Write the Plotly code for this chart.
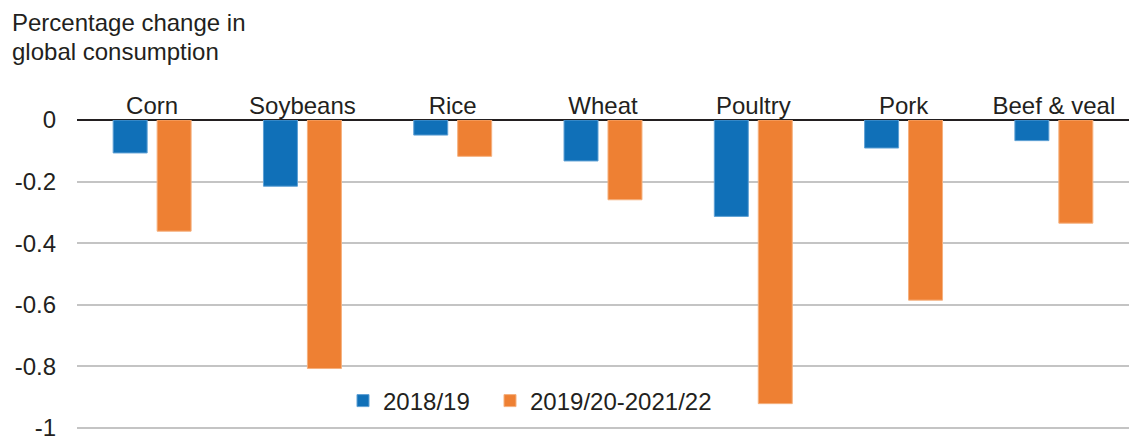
import plotly.graph_objects as go

categories = ["Corn", "Soybeans", "Rice", "Wheat", "Poultry", "Pork", "Beef & veal"]
series_2018 = [-0.107, -0.215, -0.049, -0.133, -0.313, -0.091, -0.067]
series_2019_22 = [-0.361, -0.807, -0.118, -0.259, -0.921, -0.585, -0.335]
tick_vals = [0, -0.2, -0.4, -0.6, -0.8, -1]
tick_text = ["0", "-0.2", "-0.4", "-0.6", "-0.8", "-1"]

BLUE = "#1070b8"
ORANGE = "#ee8033"
FONT = "Liberation Sans, Arial, Helvetica, sans-serif"
TXT = "#231f20"
FS = 24

L, R, T, B = 77, 0, 120, 7
W, H = 1129, 436
plot_h = H - T - B
plot_w = W - L - R

fig = go.Figure()
fig.add_trace(go.Bar(x=categories, y=series_2018, name="2018/19", legend="legend",
                     marker=dict(color=BLUE, line=dict(color="#5fa0d4", width=1))))
fig.add_trace(go.Bar(x=categories, y=series_2019_22, name="2019/20-2021/22", legend="legend2",
                     marker=dict(color=ORANGE, line=dict(color="#f5b07e", width=1))))

leg_common = dict(orientation="h", y=(H - B - 401) / plot_h, xanchor="left", yanchor="middle",
                  font=dict(size=FS, color=TXT), bgcolor="rgba(0,0,0,0)", itemwidth=30)

fig.update_layout(
    width=W, height=H,
    margin=dict(l=L, r=R, t=T, b=B, autoexpand=False),
    plot_bgcolor="white", paper_bgcolor="white",
    font=dict(family=FONT, size=FS, color=TXT),
    barmode="group", bargap=0.415, bargroupgap=0.227,
    showlegend=True,
    legend=dict(x=(343 - L) / plot_w, **leg_common),
    legend2=dict(x=(490 - L) / plot_w, **leg_common),
    xaxis=dict(side="top", range=[-0.5, 6.5], showgrid=False, showline=False,
               ticks="", tickfont=dict(size=FS, color=TXT), ticklabelstandoff=0),
    yaxis=dict(range=[-1.0033, 0], tickvals=tick_vals, ticktext=tick_text,
               showgrid=True, gridcolor="#c4c4c4", gridwidth=1.5,
               zeroline=True, zerolinecolor="#231f20", zerolinewidth=1.5,
               ticks="", tickfont=dict(size=FS, color=TXT), ticklabelstandoff=20,
               ticklabeloverflow="allow"),
)
for text, ypix in [("Percentage change in", 22), ("global consumption", 52)]:
    fig.add_annotation(text=text, x=(10 - L) / plot_w, y=(H - B - ypix) / plot_h,
                       xref="paper", yref="paper", showarrow=False,
                       xanchor="left", yanchor="middle", font=dict(size=FS, color=TXT))

fig.write_html("out.html", config={"displayModeBar": False},
               post_script="document.body.style.margin='0';")
